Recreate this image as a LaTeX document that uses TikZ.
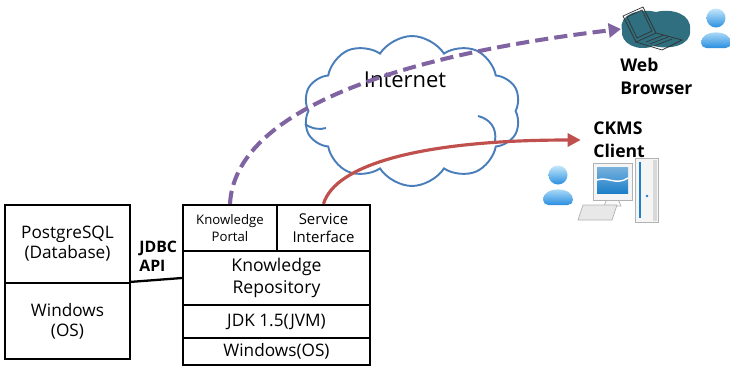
\documentclass[tikz,border=0pt]{standalone}
\usepackage{fontspec}
\setmainfont{Open Sans}
\usetikzlibrary{arrows.meta,shapes.symbols,positioning}

\definecolor{netblue}{HTML}{4A7EBB}
\definecolor{webpurple}{HTML}{8064A2}
\definecolor{clientred}{HTML}{C0504D}
\definecolor{blobteal}{HTML}{2F6F7F}
\definecolor{userlight}{HTML}{C4E8FB}
\definecolor{userdark}{HTML}{2A8FE0}
\definecolor{screenblue}{HTML}{1E7FC8}

\begin{document}
\begin{tikzpicture}[x=0.02cm,y=-0.02cm]
\tikzstyle{layer} = [
	shape=rectangle,
	draw=black, %border of each layer
	line width=1.3pt,
	inner sep=0pt,
	align=center,
	font=\fontsize{9.8}{11.5}\selectfont
];
\tikzstyle{tag} = [
	inner sep=0pt,
	align=left,
	font=\bfseries\fontsize{10}{13}\selectfont
];

\useasboundingbox (0,0) rectangle (730,369);

%database server
\node[layer, minimum width=2.5cm, minimum height=1.56cm] (pg) at (67.5,244) {PostgreSQL\\(Database)};
\node[layer, minimum width=2.5cm, minimum height=1.52cm] (dbos) at (67.5,321) {Windows\\(OS)};

%knowledge server
\node[layer, minimum width=1.88cm, minimum height=0.92cm, font=\fontsize{7.5}{10}\selectfont] (portal) at (230,228) {Knowledge\\Portal};
\node[layer, minimum width=1.86cm, minimum height=0.92cm, font=\fontsize{8.5}{10}\selectfont] (service) at (323.5,228) {Service\\Interface};
\node[layer, minimum width=3.74cm, minimum height=1.08cm, font=\fontsize{10}{12.5}\selectfont] (repo) at (276.5,278) {Knowledge\\Repository};
\node[layer, minimum width=3.74cm, minimum height=0.66cm] (jdk) at (276.5,321.5) {JDK 1.5(JVM)};
\node[layer, minimum width=3.74cm, minimum height=0.54cm] (os) at (276.5,351.5) {Windows(OS)};

%jdbc link
\node[tag, anchor=north west, font=\bfseries\fontsize{9}{10.5}\selectfont] (jdbc) at (139,241) {JDBC\\API};
\draw[line width=1.3pt] (dbos.north east) -- (repo.west);

%internet cloud
\node[cloud, draw=netblue, line width=1.1pt, fill=white, cloud puffs=10, cloud puff arc=115,
	aspect=1.45, minimum width=4.35cm, minimum height=3cm] (net) at (412,111) {};
\draw[netblue, line width=1.1pt] (305,124) .. controls (312,129) and (320,130) .. (326,128);
\draw[netblue, line width=1.1pt] (478,116) .. controls (490,119) and (497,128) .. (495,141);
\node[font=\fontsize{12.5}{14}\selectfont] (inet) at (405,80) {Internet};

%web browser
\fill[blobteal] (622,30) .. controls (618,14) and (640,8) .. (656,12)
	.. controls (672,8) and (692,14) .. (690,30)
	.. controls (692,46) and (668,50) .. (654,46)
	.. controls (638,52) and (620,44) .. (622,30) -- cycle;
\draw[black!80, line width=0.4pt] (623,16) -- (643,7) -- (656,33) -- (636,42) -- cycle
	(627,17) -- (642,10) -- (652,31) -- (637,38) -- cycle
	(636,42) -- (656,33) -- (682,40) -- (662,50) -- cycle
	(646,42) -- (664,35) (650,44) -- (668,37) (654,46) -- (672,39);
\coordinate (browser) at (621,29);
\node[tag, anchor=north west] (wb) at (620,58) {Web\\Browser};

%users
\foreach \ux/\uy in {716/28, 558/185}{
	\shade[top color=userlight, bottom color=userdark] (\ux,\uy-10) circle (9.5);
	\shade[top color=userlight, bottom color=userdark, rounded corners=3pt]
		(\ux-15,\uy+20) .. controls (\ux-15,\uy+1) and (\ux+15,\uy+1) .. (\ux+15,\uy+20) -- cycle;
}

%client computer
\draw[gray!60, fill=gray!8] (635,158) rectangle (658,222);
\fill[gray!30] (653,160) rectangle (657,221);
\draw[screenblue, line width=1pt] (640,162) -- (640,218);
\fill[screenblue] (647,196) circle (1.3);
\draw[gray!60, fill=gray!5] (604,206) -- (607,199) -- (618,199) -- (621,206) -- cycle;
\draw[gray!60, fill=gray!8] (593,163) rectangle (632,200);
\shade[top color=screenblue!60, bottom color=screenblue] (597,167) rectangle (628,193);
\draw[white, line width=0.8pt] (597,180) .. controls (607,176) and (616,186) .. (628,178);
\draw[gray!60, fill=gray!18] (583,205) -- (617,205) -- (612,220) -- (578,220) -- cycle;
\node[tag, anchor=west] (ckms) at (593,140) {CKMS\\Client};

%portal traffic
\draw[webpurple, line width=2.3pt, dash pattern=on 7.5pt off 3.5pt,
	-{Triangle[length=7pt,width=8pt]}]
	(portal.north) .. controls (235,110) and (400,55) .. (browser);

%service traffic
\draw[clientred, line width=1.8pt, -{Triangle[length=7.5pt,width=7.5pt]}]
	(service.north) .. controls (335,165) and (420,140) .. ([xshift=-7pt]ckms.west);

\end{tikzpicture}
\end{document}
